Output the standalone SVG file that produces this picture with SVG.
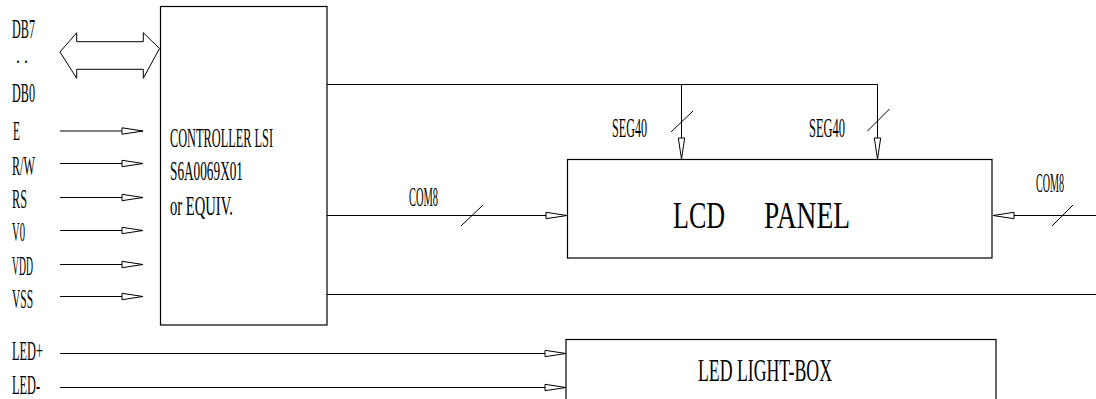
<svg xmlns="http://www.w3.org/2000/svg" width="1096" height="399" viewBox="0 0 1096 399">
<style>
.ln{stroke:#000;stroke-width:1;fill:none}
.box{stroke:#000;stroke-width:1.2;fill:#fff}
.t{font-family:"Liberation Serif",serif;font-size:28px;fill:#000}
.arr{marker-end:url(#ah)}
</style>
<defs>
<marker id="ah" markerUnits="userSpaceOnUse" markerWidth="24" markerHeight="10" viewBox="-22 -5 24 10" refX="0" refY="0" orient="auto">
<path d="M-21,-3.2 L0,0 L-21,3.2 Z" fill="#fff" stroke="#000" stroke-width="1"/>
</marker>
</defs>
<rect width="1096" height="399" fill="#fff"/>

<g id="connectors">
<polygon class="ln" points="60,52 76.7,32.7 76.7,41.7 143.3,41.7 143.3,32.7 159.5,48.5 143.3,78.3 143.3,69.3 76.7,69.3 76.7,78.3"/>
<line class="ln arr" x1="60" y1="131" x2="143" y2="131"/>
<line class="ln arr" x1="60" y1="163.5" x2="143" y2="163.5"/>
<line class="ln arr" x1="60" y1="197.5" x2="143" y2="197.5"/>
<line class="ln arr" x1="60" y1="230.5" x2="143" y2="230.5"/>
<line class="ln arr" x1="60" y1="264.5" x2="143" y2="264.5"/>
<line class="ln arr" x1="60" y1="296.5" x2="143" y2="296.5"/>
<polyline class="ln" points="327,84.5 877.5,84.5"/>
<line class="ln arr" x1="681.5" y1="84.5" x2="681.5" y2="159"/>
<line class="ln arr" x1="877.5" y1="84.5" x2="877.5" y2="159"/>
<line class="ln" x1="671" y1="132" x2="693" y2="111"/>
<line class="ln" x1="867.5" y1="131" x2="889.5" y2="109"/>
<line class="ln arr" x1="327" y1="215.5" x2="567" y2="215.5"/>
<line class="ln" x1="461" y1="226" x2="483" y2="205"/>
<line class="ln arr" x1="1096" y1="215.5" x2="993" y2="215.5"/>
<line class="ln" x1="1052" y1="226" x2="1073" y2="205"/>
<line class="ln" x1="327" y1="294.5" x2="1096" y2="294.5"/>
<line class="ln arr" x1="60" y1="353.5" x2="566" y2="353.5"/>
<line class="ln" x1="350" y1="353.5" x2="424" y2="353.5" stroke-width="1.4"/>
<line class="ln arr" x1="60" y1="387.5" x2="566" y2="387.5"/>
</g>

<g id="labels">
<text class="t" x="12" y="38" textLength="23" lengthAdjust="spacingAndGlyphs">DB7</text>
<text class="t" x="16" y="63" style="font-size:20px" textLength="12" lengthAdjust="spacingAndGlyphs">. .</text>
<text class="t" x="12" y="102" textLength="23" lengthAdjust="spacingAndGlyphs">DB0</text>
<text class="t" x="13" y="140" textLength="7" lengthAdjust="spacingAndGlyphs">E</text>
<text class="t" x="12" y="175" textLength="23" lengthAdjust="spacingAndGlyphs">R/W</text>
<text class="t" x="12" y="208" textLength="15" lengthAdjust="spacingAndGlyphs">RS</text>
<text class="t" x="12" y="241" textLength="13" lengthAdjust="spacingAndGlyphs">V0</text>
<text class="t" x="12" y="275" textLength="21" lengthAdjust="spacingAndGlyphs">VDD</text>
<text class="t" x="12" y="308" textLength="21" lengthAdjust="spacingAndGlyphs">VSS</text>
<text class="t" x="12" y="360" textLength="31" lengthAdjust="spacingAndGlyphs">LED+</text>
<text class="t" x="12" y="394" textLength="28" lengthAdjust="spacingAndGlyphs">LED-</text>
<text class="t" x="612" y="137" textLength="35" lengthAdjust="spacingAndGlyphs">SEG40</text>
<text class="t" x="809" y="137" textLength="36" lengthAdjust="spacingAndGlyphs">SEG40</text>
<text class="t" x="409" y="206" textLength="29" lengthAdjust="spacingAndGlyphs">COM8</text>
<text class="t" transform="translate(1036 192) scale(0.36 1)">COM8</text>
</g>

<g id="controller">
<rect class="box" x="160.5" y="6.5" width="166.5" height="318.5"/>
<text class="t" x="170" y="147" textLength="103" lengthAdjust="spacingAndGlyphs">CONTROLLER LSI</text>
<text class="t" x="170" y="180" textLength="73" lengthAdjust="spacingAndGlyphs">S6A0069X01</text>
<text class="t" x="170" y="215" textLength="63" lengthAdjust="spacingAndGlyphs">or EQUIV.</text>
</g>

<g id="lcd-panel">
<rect class="box" x="567.5" y="159.5" width="424.5" height="98.5"/>
<text class="t" y="228" style="font-size:37px"><tspan x="673" textLength="52" lengthAdjust="spacingAndGlyphs">LCD</tspan><tspan x="764" textLength="86" lengthAdjust="spacingAndGlyphs">PANEL</tspan></text>
</g>

<g id="led-light-box">
<rect class="box" x="566" y="339.5" width="430" height="80"/>
<text class="t" x="698" y="381" style="font-size:31px" textLength="134" lengthAdjust="spacingAndGlyphs">LED LIGHT-BOX</text>
</g>
</svg>
